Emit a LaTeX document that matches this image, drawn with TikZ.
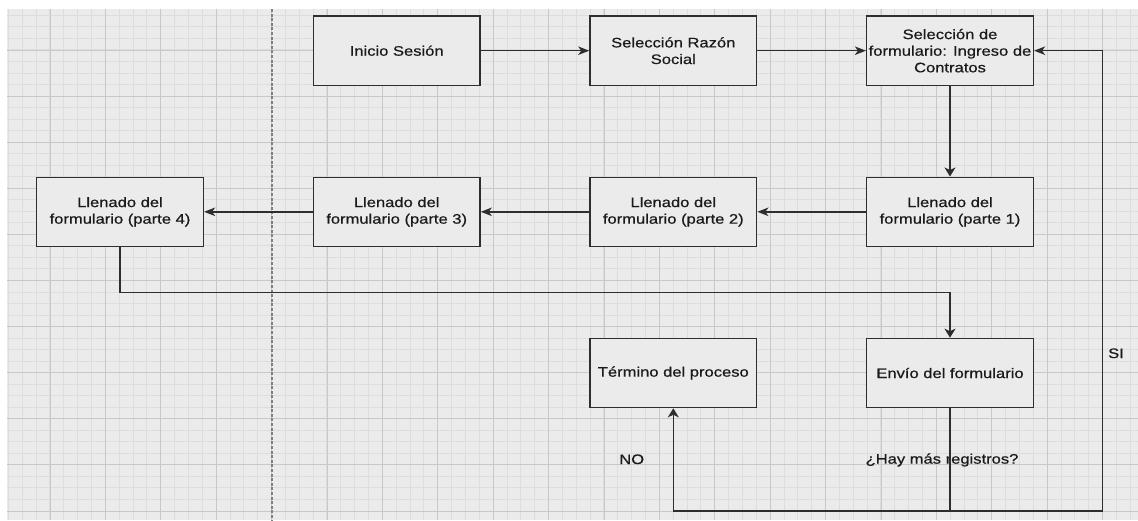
\documentclass[tikz,border=0pt]{standalone}
\usepackage{fontspec}
\setmainfont{Liberation Sans}[FakeStretch=1.2, FakeBold=0.6]
\usetikzlibrary{arrows.meta}

\definecolor{canvas}{HTML}{EBEBEB}
\definecolor{gridminor}{HTML}{DDDDDD}
\definecolor{gridmajor}{HTML}{C8C8C8}
\definecolor{ink}{HTML}{2E2E2E}
\definecolor{txt}{HTML}{1A1A1A}
\definecolor{sep}{HTML}{808080}

\tikzset{
  procbox/.style={draw=ink, fill=canvas, line width=1.5pt,
    minimum width=166.7pt, minimum height=69.1pt, inner sep=0pt,
    align=center, text=txt, font=\fontsize{13.8}{16.6}\selectfont},
  lbl/.style={inner sep=0pt, text=txt, font=\fontsize{13.8}{16.6}\selectfont},
  flow/.style={draw=ink, line width=1.5pt},
  hflow/.style={flow, -{Stealth[length=11pt, width=8.5pt, inset=3pt]}},
  vflow/.style={flow, -{Stealth[length=9pt, width=11pt, inset=2.5pt]}},
  minorline/.style={draw=gridminor, line width=1pt},
  majorline/.style={draw=gridmajor, line width=1pt},
  sepline/.style={draw=sep, line width=1.8pt, dash pattern=on 3pt off 1.6pt}
}

\begin{document}
\begin{tikzpicture}[x=1pt, y=-1pt]
\useasboundingbox (0,0) rectangle (1138,520);

% canvas with grid
\fill[canvas] (7,9) rectangle (1138,520);
\begin{scope}
  \clip (7,9) rectangle (1138,520);
  \foreach \i in {0,...,81} {
    \pgfmathsetmacro\xx{8.4+13.85*\i}
    \draw[minorline] (\xx,9) -- (\xx,520);
  }
  \foreach \j in {0,...,44} {
    \pgfmathsetmacro\yy{15.42+11.525*\j}
    \draw[minorline] (7,\yy) -- (1138,\yy);
  }
  \foreach \i in {0,...,20} {
    \pgfmathsetmacro\xx{50+55.4*\i}
    \draw[majorline] (\xx,9) -- (\xx,520);
  }
  \foreach \j in {0,...,10} {
    \pgfmathsetmacro\yy{50+46.1*\j}
    \draw[majorline] (7,\yy) -- (1138,\yy);
  }
\end{scope}

% dashed separator
\draw[sepline] (271.7,9) -- (271.7,520);

% process boxes
\node[procbox] (ini) at (396.7,50.7) {Inicio Sesión};
\node[procbox] (raz) at (673.3,50.7) {Selección Razón\\Social};
\node[procbox] (sel) at (950,50.7) {Selección de\\formulario: Ingreso de\\Contratos};
\node[procbox] (p1) at (950,211.8) {Llenado del\\formulario (parte 1)};
\node[procbox] (p2) at (673.3,211.8) {Llenado del\\formulario (parte 2)};
\node[procbox] (p3) at (396.7,211.8) {Llenado del\\formulario (parte 3)};
\node[procbox] (p4) at (120,211.8) {Llenado del\\formulario (parte 4)};
\node[procbox] (env) at (950,373) {Envío del formulario};
\node[procbox] (fin) at (673.3,373) {Término del proceso};

% labels
\node[lbl] (q) at (942,460) {¿Hay más registros?};
\node[lbl] (no) at (631.7,459.3) {NO};
\node[lbl] (si) at (1116,353.3) {SI};

% routing points
\coordinate (j1) at (120,292.3);
\coordinate (j2) at (950,511);
\coordinate (j3) at (1102.3,511);

% connectors
\draw[hflow] (ini.east) -- (raz.west);
\draw[hflow] (raz.east) -- (sel.west);
\draw[vflow] (sel.south) -- (p1.north);
\draw[hflow] (p1.west) -- (p2.east);
\draw[hflow] (p2.west) -- (p3.east);
\draw[hflow] (p3.west) -- (p4.east);
\draw[vflow] (p4.south) -- (j1) -| (env.north);
\draw[vflow] (env.south) -- (j2) -| (fin.south);
\draw[hflow] (j2) -- (j3) |- (sel.east);
\end{tikzpicture}
\end{document}
